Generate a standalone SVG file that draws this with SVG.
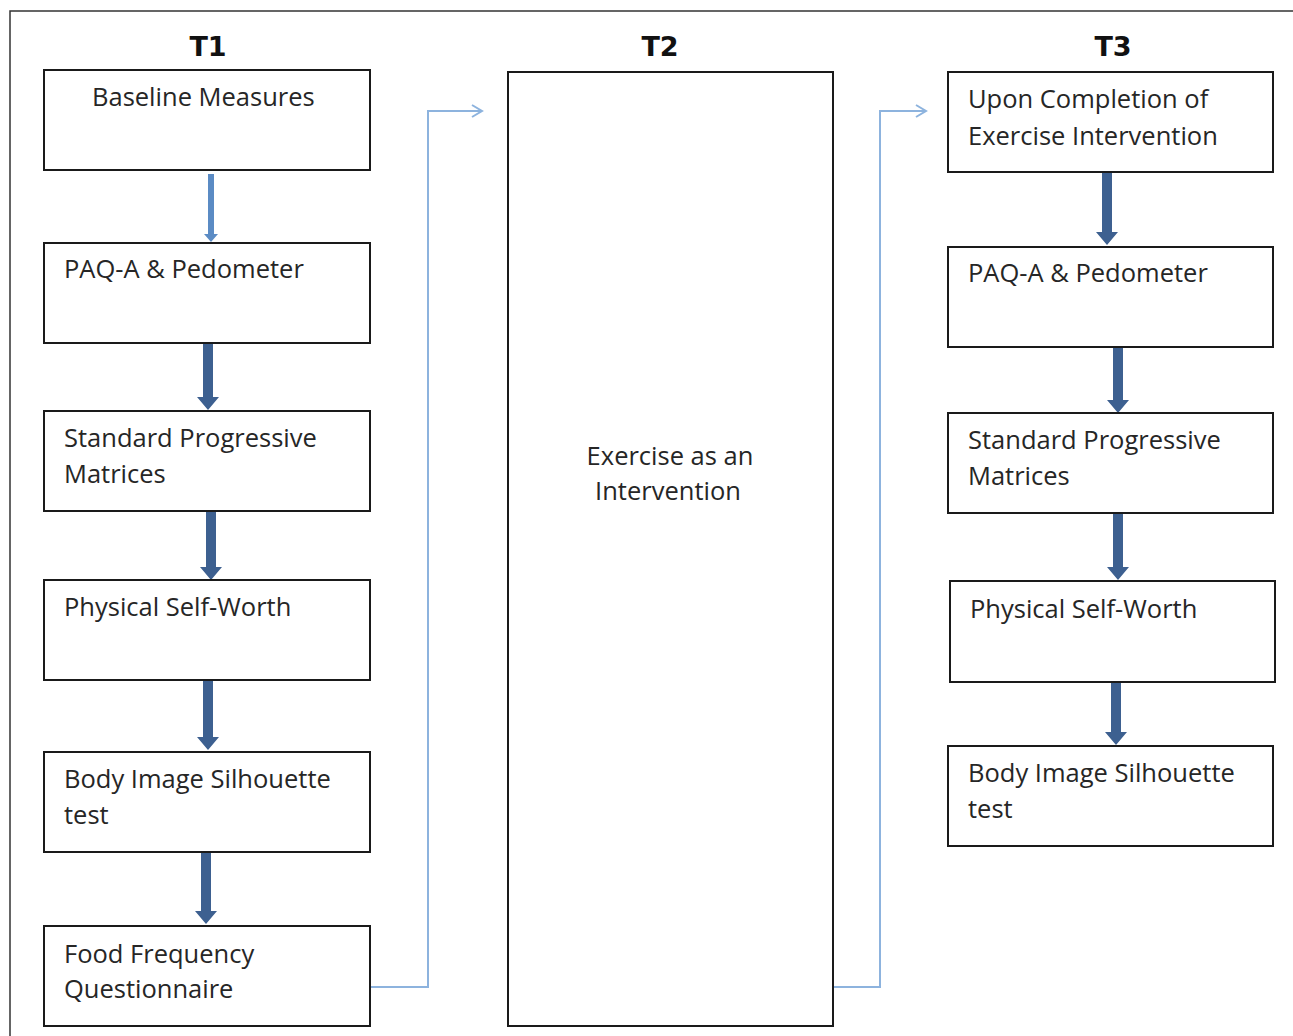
<svg xmlns="http://www.w3.org/2000/svg" width="1293" height="1036" viewBox="0 0 1293 1036">
<style>
.box{fill:#fff;stroke:#1a1a1a;stroke-width:2}
.t{font-family:"Open Sans","Liberation Sans",sans-serif;font-size:25.5px;fill:#262626}
.h{font-family:"DejaVu Sans","Liberation Sans",sans-serif;font-size:27px;font-weight:bold;fill:#111;text-anchor:middle}
.con{fill:none;stroke:#8db3de;stroke-width:2}
.dark{fill:#3d6090}
</style>
<defs>
<marker id="open" markerWidth="14" markerHeight="14" refX="12" refY="7" orient="auto" markerUnits="userSpaceOnUse">
<path d="M2,1 L12,7 L2,13" fill="none" stroke="#8db3de" stroke-width="2"/>
</marker>
</defs>
<rect x="0" y="0" width="1293" height="1036" fill="#fff"/>
<path d="M10,1036 V11 H1293" fill="none" stroke="#333" stroke-width="1.5"/>
<text class="h" x="208" y="56">T1</text>
<text class="h" x="660" y="56">T2</text>
<text class="h" x="1113" y="56">T3</text>

<g id="connectors">
<rect x="208" y="174" width="6" height="62" fill="#5b8bc4"/>
<path d="M204,234 L218,234 L211,242 Z" fill="#5b8bc4"/>
<g class="dark">
<path d="M203,337 H213 V397 H219 L208,410 L197,397 H203 Z"/>
<path d="M206,507 H216 V567 H222 L211,580 L200,567 H206 Z"/>
<path d="M203,677 H213 V737 H219 L208,750 L197,737 H203 Z"/>
<path d="M201,850 H211 V911 H217 L206,924 L195,911 H201 Z"/>
<path d="M1102,172 H1112 V232 H1118 L1107,245 L1096,232 H1102 Z"/>
<path d="M1113,345 H1123 V400 H1129 L1118,413 L1107,400 H1113 Z"/>
<path d="M1113,509 H1123 V567 H1129 L1118,580 L1107,567 H1113 Z"/>
<path d="M1111,674 H1121 V732 H1127 L1116,745 L1105,732 H1111 Z"/>
</g>
<path class="con" d="M370,987 H428 V111 H482" marker-end="url(#open)"/>
<path class="con" d="M833,987 H880 V111 H926" marker-end="url(#open)"/>
</g>

<g id="t1-baseline"><rect class="box" x="44" y="70" width="326" height="100"/><text class="t" x="92" y="106">Baseline Measures</text></g>
<g id="t1-paq"><rect class="box" x="44" y="243" width="326" height="100"/><text class="t" x="64" y="278">PAQ-A &amp; Pedometer</text></g>
<g id="t1-spm"><rect class="box" x="44" y="411" width="326" height="100"/><text class="t" x="64" y="447">Standard Progressive</text><text class="t" x="64" y="483">Matrices</text></g>
<g id="t1-psw"><rect class="box" x="44" y="580" width="326" height="100"/><text class="t" x="64" y="616">Physical Self-Worth</text></g>
<g id="t1-body"><rect class="box" x="44" y="752" width="326" height="100"/><text class="t" x="64" y="788">Body Image Silhouette</text><text class="t" x="64" y="824">test</text></g>
<g id="t1-food"><rect class="box" x="44" y="926" width="326" height="100"/><text class="t" x="64" y="963">Food Frequency</text><text class="t" x="64" y="998">Questionnaire</text></g>

<g id="t2-exercise"><rect class="box" x="508" y="72" width="325" height="954"/><text class="t" x="670" y="465" text-anchor="middle">Exercise as an</text><text class="t" x="668" y="500" text-anchor="middle">Intervention</text></g>

<g id="t3-upon"><rect class="box" x="948" y="72" width="325" height="100"/><text class="t" x="968" y="108">Upon Completion of</text><text class="t" x="968" y="145">Exercise Intervention</text></g>
<g id="t3-paq"><rect class="box" x="948" y="247" width="325" height="100"/><text class="t" x="968" y="282">PAQ-A &amp; Pedometer</text></g>
<g id="t3-spm"><rect class="box" x="948" y="413" width="325" height="100"/><text class="t" x="968" y="449">Standard Progressive</text><text class="t" x="968" y="485">Matrices</text></g>
<g id="t3-psw"><rect class="box" x="950" y="581" width="325" height="101"/><text class="t" x="970" y="618">Physical Self-Worth</text></g>
<g id="t3-body"><rect class="box" x="948" y="746" width="325" height="100"/><text class="t" x="968" y="782">Body Image Silhouette</text><text class="t" x="968" y="818">test</text></g>
</svg>
